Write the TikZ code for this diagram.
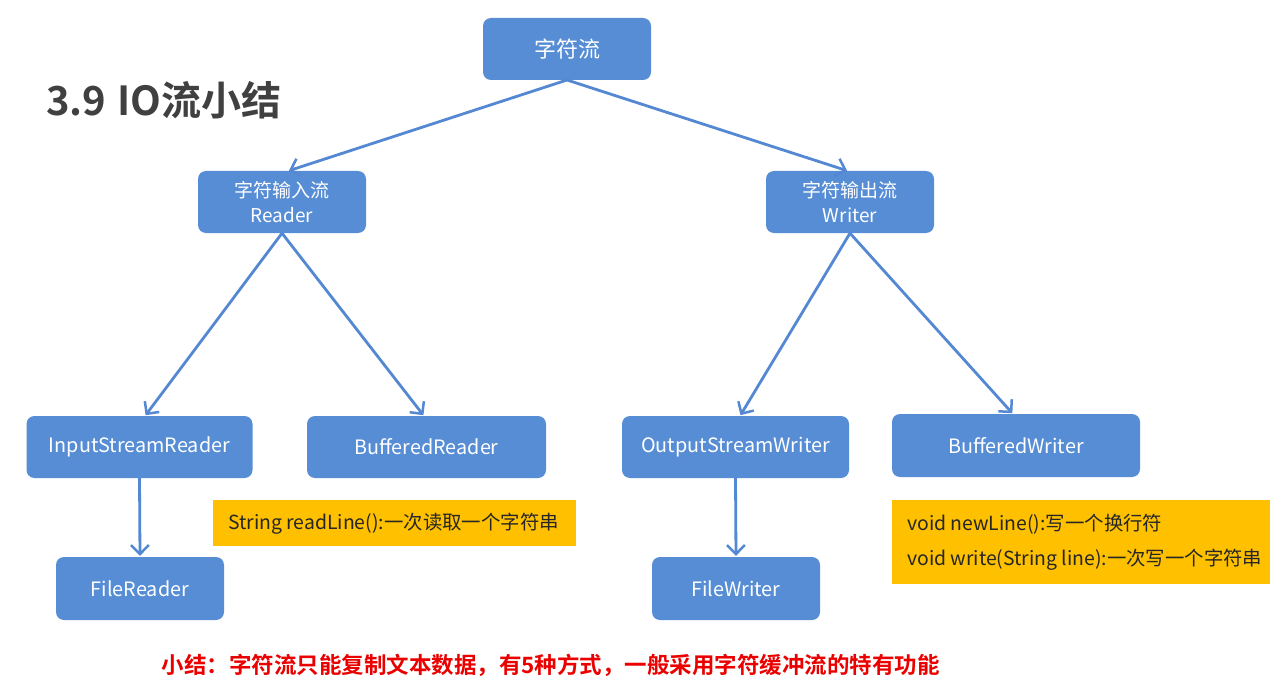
\documentclass[tikz,border=0pt]{standalone}
\usepackage{fontspec}
\setmainfont{Noto Sans CJK SC}
\newfontfamily\cjkb{Noto Sans CJK SC Bold}
\usetikzlibrary{arrows.meta}
\definecolor{boxblue}{RGB}{86,141,213}
\definecolor{lineblue}{RGB}{84,136,210}
\definecolor{noteyellow}{RGB}{255,192,0}
\definecolor{titlegray}{RGB}{64,64,64}
\definecolor{notered}{RGB}{235,0,0}
\begin{document}
\begin{tikzpicture}[x=1pt,y=-1pt,
  box/.style={fill=boxblue,rounded corners=8pt,text=white,align=center,inner sep=0pt},
  big/.style={box,font=\fontsize{19.8}{25}\selectfont},
  top/.style={box,font=\fontsize{22}{25}\selectfont},
  mid/.style={box,font=\fontsize{19}{25}\selectfont},
  note/.style={fill=noteyellow,anchor=north west,inner sep=0pt},
  notetext/.style={anchor=west,inner sep=0pt,text=black!85,font=\fontsize{19.4}{22}\selectfont},
  conn/.style={draw=lineblue,line width=2.8pt,-{Straight Barb[length=9pt,width=18pt,line width=2.5pt]},shorten >=1pt}]
\useasboundingbox (0,0) rectangle (1270,690);
\fill[white] (0,0) rectangle (1270,690);

\node[text=titlegray,font=\cjkb\fontsize{40}{42}\selectfont,anchor=west,inner sep=0pt] (title) at (46,100) {3.9\hspace{0.28em}IO流小结};

\node[top,minimum width=168pt,minimum height=62pt] (root) at (567,49) {字符流};
\node[mid,minimum width=168pt,minimum height=62pt] (reader) at (282,202) {字符输入流\\Reader};
\node[mid,minimum width=168pt,minimum height=62pt] (writer) at (850,202) {字符输出流\\Writer};

\node[big,minimum width=226pt,minimum height=62pt] (isr) at (139.5,447) {InputStreamReader};
\node[big,minimum width=239pt,minimum height=62pt] (br) at (426.5,447) {BufferedReader};
\node[big,minimum width=168pt,minimum height=63pt] (fr) at (140,588.5) {FileReader};
\node[big,minimum width=227pt,minimum height=62pt] (osw) at (735.5,447) {OutputStreamWriter};
\node[big,minimum width=248pt,minimum height=63pt] (bw) at (1016,445.5) {BufferedWriter};
\node[big,minimum width=168pt,minimum height=63pt] (fw) at (736,588.5) {FileWriter};

\node[note,minimum width=363pt,minimum height=46pt] (n1) at (213,500) {};
\node[notetext] (n1t) at (228,524) {String readLine():一次读取一个字符串};
\node[note,minimum width=378pt,minimum height=84pt] (n2) at (892,500) {};
\node[notetext] (n2a) at (907,524) {void newLine():写一个换行符};
\node[notetext] (n2b) at (907,560) {void write(String line):一次写一个字符串};

\node[text=notered,font=\cjkb\fontsize{22.5}{26}\selectfont,anchor=west] (summary) at (158,665) {小结：字符流只能复制文本数据，有5种方式，一般采用字符缓冲流的特有功能};

\coordinate (rootb) at (567,80);
\coordinate (readert) at (288,171);
\coordinate (writert) at (848,171);
\draw[conn] (rootb) -- (readert);
\draw[conn] (rootb) -- (writert);
\draw[conn] (reader.south) -- (145,416);
\draw[conn] (reader.south) -- (424,416);
\draw[conn] (writer.south) -- (740,416);
\draw[conn] (writer.south) -- (1013,414);
\draw[conn] (isr.south) -- (fr.north);
\draw[conn] (osw.south) -- (fw.north);
\end{tikzpicture}
\end{document}
